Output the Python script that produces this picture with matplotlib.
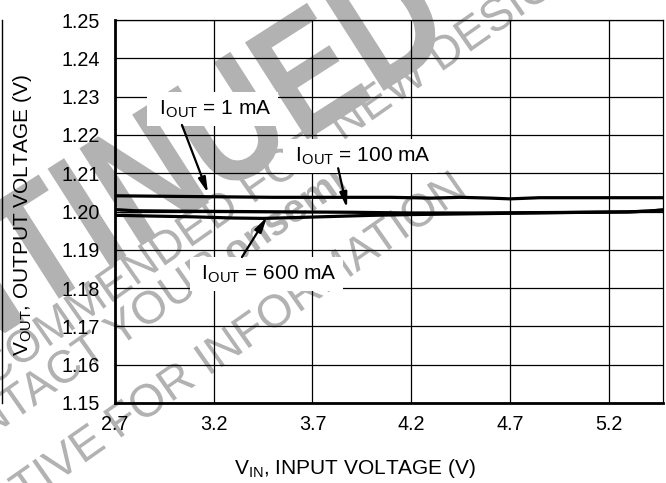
import numpy as np
import matplotlib
matplotlib.use('Agg')
from matplotlib import pyplot as plt
from matplotlib.lines import Line2D
from matplotlib.textpath import TextPath
from matplotlib.font_manager import FontProperties
from matplotlib.patches import PathPatch
from matplotlib.transforms import Affine2D, IdentityTransform

plt.rcParams['font.family'] = ['Liberation Sans', 'DejaVu Sans']
plt.rcParams['mathtext.fontset'] = 'custom'
plt.rcParams['mathtext.rm'] = 'Liberation Sans'
plt.rcParams['mathtext.it'] = 'Liberation Sans:italic'
plt.rcParams['mathtext.bf'] = 'Liberation Sans:bold'

# curves
vin_1ma = [2.70, 2.90, 3.10, 3.30, 3.50, 3.70, 3.90, 4.10, 4.30, 4.45, 4.60, 4.70, 4.85, 5.00, 5.20, 5.475]
vout_1ma = [1.2041, 1.2040, 1.2039, 1.2038, 1.2037, 1.2037, 1.2037, 1.2037, 1.2035, 1.2037, 1.2035, 1.2033, 1.2036, 1.2036, 1.2036, 1.2036]
vin_100ma = [2.70, 2.80, 3.00, 3.30, 3.60, 3.90, 4.20, 4.50, 4.80, 5.10, 5.30, 5.40, 5.475]
vout_100ma = [1.2005, 1.2002, 1.2001, 1.2000, 1.1999, 1.1998, 1.1996, 1.1996, 1.1997, 1.1998, 1.1999, 1.2001, 1.2004]
vin_600ma = [2.70, 2.90, 3.10, 3.30, 3.45, 3.60, 3.80, 4.00, 4.20, 4.50, 4.80, 5.10, 5.30, 5.40, 5.475]
vout_600ma = [1.1990, 1.1988, 1.1986, 1.1983, 1.1982, 1.1984, 1.1987, 1.1990, 1.1992, 1.1994, 1.1996, 1.1998, 1.1999, 1.2001, 1.2004]

xticks = [2.7, 3.2, 3.7, 4.2, 4.7, 5.2]
yticks = [1.15, 1.16, 1.17, 1.18, 1.19, 1.20, 1.21, 1.22, 1.23, 1.24, 1.25]

labels = [r' I$_{\mathrm{OUT}}$ = 1 mA ', r' I$_{\mathrm{OUT}}$ = 100 mA ', r' I$_{\mathrm{OUT}}$ = 600 mA ']
label_xy = [(3.194, 1.2268), (3.941, 1.2145), (3.467, 1.1837)]
arrow_tail = [(3.039, 1.2226), (3.83, 1.2113), (3.343, 1.1881)]
arrow_head = [(3.171, 1.2048), (3.875, 1.2009), (3.47, 1.1986)]

W, H = 666, 483
fig = plt.figure(figsize=(W/100, H/100), dpi=100)
ax = fig.add_axes([115/W, 1 - 403/H, 548/W, 383/H])
ax.patch.set_alpha(0)

# watermark, drawn at figure level behind the (transparent) axes, in pixels
grey = '#b2b2b2'
def wm(x, y, s, size, rot, ha='center', weight='normal', sx=1.0):
    tp = TextPath((0, 0), s, size=size, prop=FontProperties(family='Liberation Sans', weight=weight))
    bb = tp.get_extents()
    dx = {'center': -(bb.x0 + bb.x1)/2, 'right': -bb.x1, 'left': -bb.x0}[ha]
    tr = Affine2D().translate(dx, 0).scale(sx, 1).rotate_deg(rot).translate(x, H - y)
    fig.add_artist(PathPatch(tr.transform_path(tp), facecolor=grey, edgecolor='none',
                             transform=IdentityTransform(), zorder=-1))

wm(24, 321, 'DISCONTINUED', 168, 32.6, weight='bold', sx=0.81)
wm(230, 220, 'NOT RECOMMENDED FOR NEW DESIGNS', 46, 35)
wm(225, 273, 'PLEASE CONTACT YOUR', 46, 35, ha='right')
wm(235, 266, 'onsemi', 40, 35, ha='left', weight='bold')
wm(466, 196, 'REPRESENTATIVE FOR INFORMATION', 46, 35, ha='right')

ax.plot(vin_1ma, vout_1ma, color='k', lw=2.3, solid_capstyle='butt', zorder=3)
ax.plot(vin_100ma, vout_100ma, color='k', lw=2.3, solid_capstyle='butt', zorder=3)
ax.plot(vin_600ma, vout_600ma, color='k', lw=2.3, solid_capstyle='butt', zorder=3)

ax.set_xlim(2.7, 5.475)
ax.set_ylim(1.15, 1.25)
ax.set_xticks(xticks)
ax.set_yticks(yticks)
ax.set_xticklabels(['{:.1f}'.format(x) for x in xticks])
ax.set_yticklabels(['{:.2f}'.format(y) for y in yticks])
ax.tick_params(length=0, labelsize=14.2, colors='k')
ax.tick_params(axis='y', pad=11)
ax.tick_params(axis='x', pad=9)
ax.grid(True, color='k', lw=0.9)
for side in ['left', 'bottom']:
    ax.spines[side].set_linewidth(2.0)
for side in ['top', 'right']:
    ax.spines[side].set_linewidth(0.9)

ax.set_ylabel(r'V$_{\mathrm{OUT}}$, OUTPUT VOLTAGE (V)', fontsize=15)
ax.yaxis.set_label_coords(-0.148, 0.49)
ax.set_xlabel(r'V$_{\mathrm{IN}}$, INPUT VOLTAGE (V)', fontsize=15)
ax.xaxis.set_label_coords(0.438, -0.14)

box = dict(boxstyle='square,pad=0.3', facecolor='white', edgecolor='none')
arrow = dict(arrowstyle='-|>,head_length=0.9,head_width=0.22', color='k', lw=1.6,
             shrinkA=0, shrinkB=0)
for s, xy, tail, head in zip(labels, label_xy, arrow_tail, arrow_head):
    ax.text(xy[0], xy[1], s, fontsize=15, ha='center', va='center', bbox=box, zorder=4)
    ax.annotate('', xy=head, xytext=tail, arrowprops=arrow, zorder=5)

# edge of the neighbouring chart that got cropped in
fig.add_artist(Line2D([2/W, 2/W], [1 - 20/H, 1 - 403/H], color='k', lw=1.0))

fig.savefig('out.png', dpi=100)
